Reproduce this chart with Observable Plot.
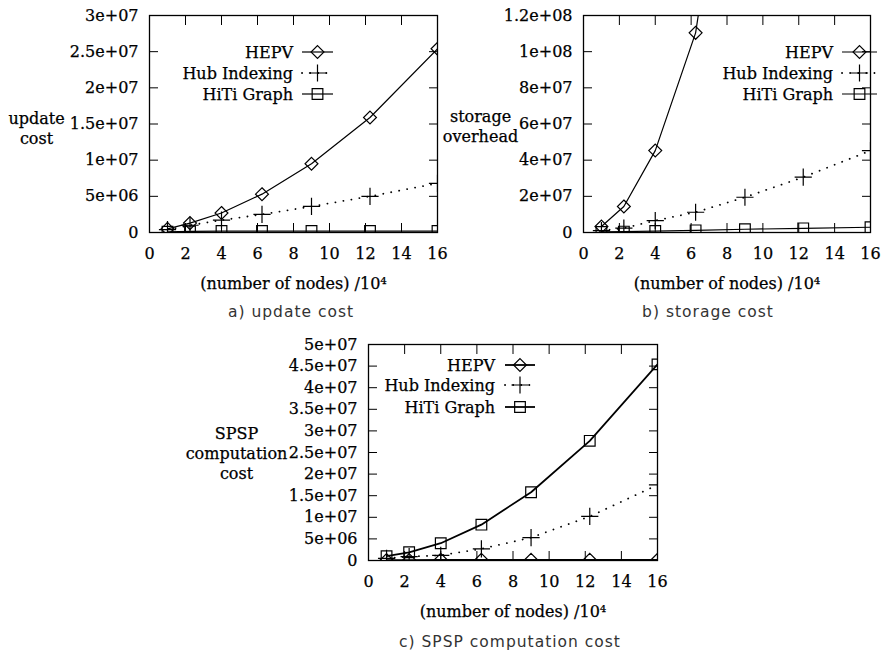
<!DOCTYPE html>
<html><head><meta charset="utf-8">
<script src="https://cdn.jsdelivr.net/npm/d3@7"></script>
<script src="https://cdn.jsdelivr.net/npm/@observablehq/plot@0.6"></script>
<style>
body{margin:0;background:#fff;}
#wrap{position:relative;width:883px;height:654px;overflow:hidden;background:#fff}
.panel{position:absolute}
.panel svg{overflow:visible}
.panel svg text{font-family:"DejaVu Serif",serif !important;font-size:16px !important;fill:#000;stroke:#000;stroke-width:0.25px}
.cap{position:absolute;font-family:"DejaVu Sans";font-size:15.5px;letter-spacing:1px;color:#333;transform:translate(-50%,-50%);white-space:nowrap}
</style></head><body><div id="wrap"></div>
<script>
// ---- data ----
const nodes = [1, 2.25, 4, 6.25, 9, 12.25, 16];
const seriesNames = ["HEPV", "Hub Indexing", "HiTi Graph"];
const xTicks = [0, 2, 4, 6, 8, 10, 12, 14, 16];

const updateHEPV = [0.5e6, 1.3e6, 2.7e6, 5.3e6, 9.5e6, 15.9e6, 25.4e6];
const updateHub  = [0.4e6, 1.0e6, 1.7e6, 2.5e6, 3.6e6, 5.0e6, 6.8e6];
const updateHiTi = [0.1e6, 0.15e6, 0.2e6, 0.2e6, 0.2e6, 0.2e6, 0.2e6];
const updateTicks  = [0, 5e6, 1e7, 1.5e7, 2e7, 2.5e7, 3e7];
const updateLabels = ["0", "5e+06", "1e+07", "1.5e+07", "2e+07", "2.5e+07", "3e+07"];

const storageHEPV = [3.3e6, 14.4e6, 45.3e6, 110.4e6, 290e6, 550e6, 950e6];
const storageHub  = [1.0e6, 2.4e6, 6.6e6, 11.2e6, 19.5e6, 30.6e6, 45.3e6];
const storageHiTi = [0.3e6, 0.5e6, 0.8e6, 1.2e6, 1.8e6, 2.3e6, 2.9e6];
const storageTicks  = [0, 2e7, 4e7, 6e7, 8e7, 1e8, 1.2e8];
const storageLabels = ["0", "2e+07", "4e+07", "6e+07", "8e+07", "1e+08", "1.2e+08"];

const spspHEPV = [0.1e6, 0.1e6, 0.15e6, 0.15e6, 0.15e6, 0.15e6, 0.15e6];
const spspHub  = [0.5e6, 0.9e6, 1.2e6, 2.7e6, 5.3e6, 10.2e6, 17.5e6];
const spspHiTi = [1.0e6, 1.9e6, 4.0e6, 8.3e6, 15.8e6, 27.7e6, 45.4e6];
const spspTicks  = [0, 5e6, 1e7, 1.5e7, 2e7, 2.5e7, 3e7, 3.5e7, 4e7, 4.5e7, 5e7];
const spspLabels = ["0", "5e+06", "1e+07", "1.5e+07", "2e+07", "2.5e+07", "3e+07", "3.5e+07", "4e+07", "4.5e+07", "5e+07"];

const xLabel = "(number of nodes) /10\u2074";

// ---- styles ----
const symNames = ["diamond2", "plus", "square2"];
const symTypes = [d3.symbolDiamond2, d3.symbolPlus, d3.symbolSquare2];
const symR = [5.8, 5.6, 6.8];
const dashes = [null, "0.1,8", null];
const FONT = "DejaVu Serif";

function legendMark(L, sw) {
  return () => {
    const g = d3.create("svg:g").attr("font-family", FONT).attr("font-size", 16);
    seriesNames.forEach((s, i) => {
      const y = L.rows[i];
      g.append("text").attr("x", L.textEnd).attr("y", y).attr("dy", "0.35em")
        .attr("text-anchor", "end").attr("fill", "#000").text(s);
      g.append("line").attr("x1", L.x1).attr("x2", L.x2).attr("y1", y).attr("y2", y)
        .attr("stroke", "#000").attr("stroke-width", dashes[i] ? 1.8 : sw)
        .attr("stroke-dasharray", dashes[i]).attr("stroke-linecap", dashes[i] ? "round" : null);
      g.append("path").attr("transform", `translate(${(L.x1 + L.x2) / 2},${y})`)
        .attr("d", d3.symbol(symTypes[i], Math.PI * symR[i] ** 2)())
        .attr("fill", "none").attr("stroke", "#000").attr("stroke-width", 1.2);
    });
    return g.node();
  };
}

function panel(o) {
  const txt = {fontFamily: FONT, fontSize: 16};
  const marks = [
    Plot.frame({stroke: "#000", strokeWidth: 1.3}),
    Plot.axisX({anchor: "bottom", ticks: xTicks, tickSize: -9, tickPadding: 24, tickFormat: d => String(d), label: null, ...txt}),
    Plot.axisX({anchor: "top", ticks: xTicks, tickSize: -9, tickFormat: () => "", label: null}),
    Plot.axisY({anchor: "left", ticks: o.yTicks, tickSize: -9, tickPadding: 20,
      tickFormat: d => o.yLabels[o.yTicks.findIndex(t => Math.abs(t - d) < 1)], label: null, ...txt}),
    Plot.axisY({anchor: "right", ticks: o.yTicks, tickSize: -9, tickFormat: () => "", label: null}),
    Plot.text([xLabel], {text: d => d, frameAnchor: "bottom", dy: 51, lineAnchor: "middle", fill: "#000", ...txt}),
    Plot.text([o.ylabel], {text: d => d, frameAnchor: "left", dx: o.ytDx, dy: o.ytDy, textAnchor: "middle", lineAnchor: "middle", lineHeight: 1.25, fill: "#000", ...txt})
  ];
  o.values.forEach((vals, i) => {
    const data = nodes.map((x, j) => ({x, y: vals[j]}));
    marks.push(Plot.line(data, {x: "x", y: "y", stroke: "#000", strokeWidth: dashes[i] ? 1.8 : o.sw, strokeDasharray: dashes[i], strokeLinecap: dashes[i] ? "round" : "butt", clip: true}));
    marks.push(Plot.dot(data, {x: "x", y: "y", symbol: symNames[i], r: symR[i], stroke: "#000", strokeWidth: 1.2, fill: "none", clip: true}));
  });
  marks.push(legendMark(o.legend, o.sw));
  const svg = Plot.plot({
    width: o.width, height: o.height,
    marginLeft: o.ml, marginRight: o.mr, marginTop: o.mt, marginBottom: o.mb,
    x: {domain: [0, 16]},
    y: {domain: [0, o.yTicks[o.yTicks.length - 1]]},
    style: {fontFamily: FONT, fontSize: "16px", color: "#000", background: "transparent"},
    marks
  });
  const div = document.createElement("div");
  div.className = "panel";
  div.style.left = o.left + "px";
  div.style.top = o.top + "px";
  div.appendChild(svg);
  document.getElementById("wrap").appendChild(div);
}

function caption(text, x, y) {
  const d = document.createElement("div");
  d.className = "cap";
  d.style.left = x + "px";
  d.style.top = y + "px";
  d.textContent = text;
  document.getElementById("wrap").appendChild(d);
}

panel({left: 0, top: 0, width: 450, height: 300, ml: 149, mr: 13, mt: 15, mb: 68,
  values: [updateHEPV, updateHub, updateHiTi], yTicks: updateTicks, yLabels: updateLabels,
  ylabel: "update\ncost", ytDx: -113, ytDy: 3.5, sw: 1.2,
  legend: {textEnd: 293, x1: 302, x2: 333, rows: [52, 73, 94]}});

panel({left: 440, top: 0, width: 443, height: 300, ml: 143, mr: 13, mt: 15, mb: 68,
  values: [storageHEPV, storageHub, storageHiTi], yTicks: storageTicks, yLabels: storageLabels,
  ylabel: "storage\noverhead", ytDx: -103, ytDy: 1.5, sw: 1.2,
  legend: {textEnd: 393, x1: 402, x2: 437, rows: [52, 73, 94]}});

panel({left: 180, top: 330, width: 500, height: 324, ml: 188, mr: 23, mt: 14, mb: 94,
  values: [spspHEPV, spspHub, spspHiTi], yTicks: spspTicks, yLabels: spspLabels,
  ylabel: "SPSP\ncomputation\ncost", ytDx: -132, ytDy: 0, sw: 1.8,
  legend: {textEnd: 315, x1: 325, x2: 355, rows: [35, 55, 77]}});

caption("a) update cost", 291, 312);
caption("b) storage cost", 708, 312);
caption("c) SPSP computation cost", 510, 642);
</script>
</body></html>
